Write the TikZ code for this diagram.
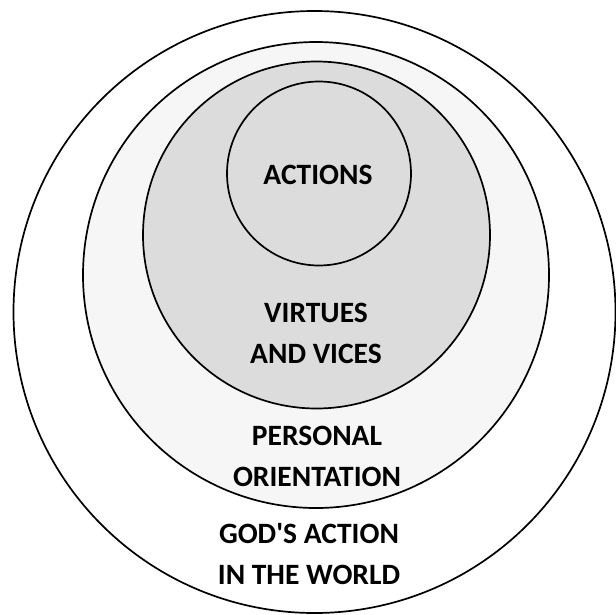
\documentclass[tikz,border=0pt]{standalone}
\usepackage{fontspec}
\setmainfont{Carlito}
\usepackage{tikz}
\usetikzlibrary{positioning}
\definecolor{orientgray}{RGB}{246,246,246}
\definecolor{virtuegray}{RGB}{220,220,220}

\begin{document}
\begin{tikzpicture}[
  x=1pt, y=-1pt,
  every node/.style={font=\bfseries\fontsize{29.5}{41}\selectfont},
  ring/.style={circle, draw=black, line width=1.7pt, inner sep=0pt},
  label/.style={align=center, inner sep=0pt},
]
\useasboundingbox (0,0) rectangle (616,614);

% nested circles, outermost first
\node[ring, fill=white,      minimum size=602pt] (world)   at (314.5,312) {};
\node[ring, fill=orientgray, minimum size=466pt] (orient)  at (316,275)   {};
\node[ring, fill=virtuegray, minimum size=347pt] (virtues) at (316.5,235) {};
\node[ring, fill=virtuegray, minimum size=184pt] (actions) at (319,173.5) {};

\node[label] at (318,175) (actionstxt)  {ACTIONS};
\node[label] at (316,333) (virtuestxt)  {VIRTUES\\AND VICES};
\node[label] at (317,456) (orienttxt)   {PERSONAL\\ORIENTATION};
\node[label] at (309,554) (worldtxt)    {GOD\textquotesingle S ACTION\\IN THE WORLD};
\end{tikzpicture}
\end{document}
